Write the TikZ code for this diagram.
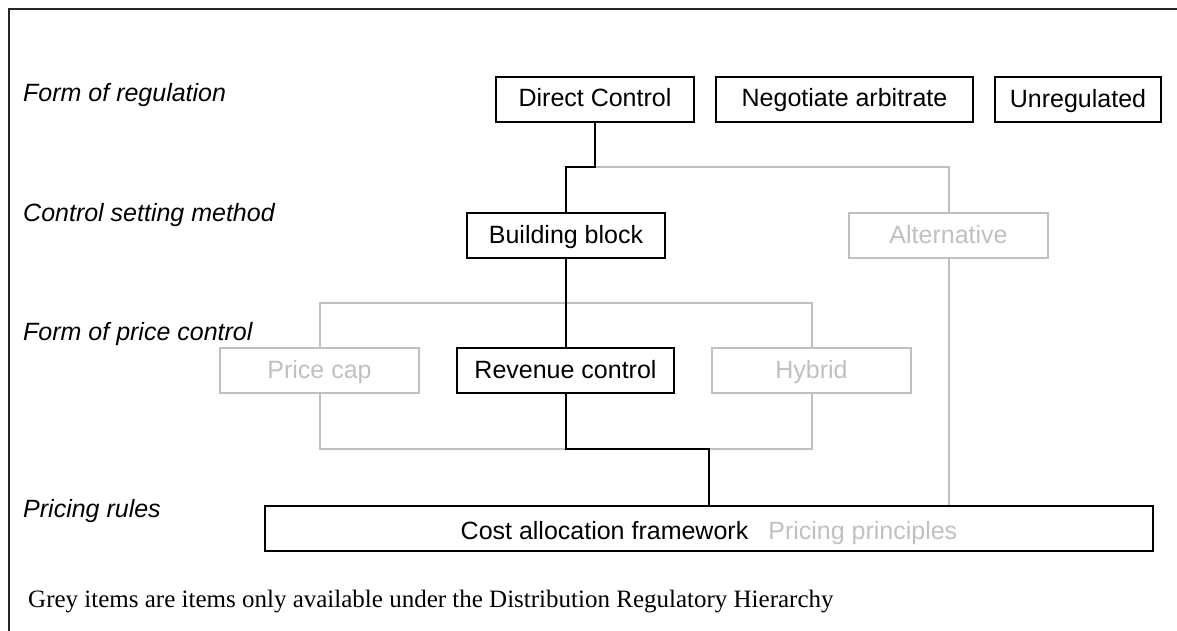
\documentclass[tikz,border=0pt]{standalone}
\usepackage{fontspec}
\setmainfont{Liberation Serif}
\setsansfont{Liberation Sans}
\definecolor{lightgrey}{HTML}{C0C0C0}
\begin{document}
\begin{tikzpicture}[x=1pt,y=-1pt,
  every node/.style={font=\sffamily\fontsize{25}{30}\selectfont, inner sep=0pt},
  blackbox/.style={draw=black, line width=2pt, minimum height=45pt, text=black, text height=18pt, text depth=3pt},
  greybox/.style={draw=lightgrey, line width=2pt, minimum height=45pt, text=lightgrey, text height=18pt, text depth=3pt},
  levellabel/.style={anchor=base west, font=\sffamily\itshape\fontsize{25}{30}\selectfont},
  blackline/.style={draw=black, line width=2pt},
  greyline/.style={draw=lightgrey, line width=2pt}]
\useasboundingbox (0,0) rectangle (1177,631);
\draw[line width=1.5pt, black!85] (9,631) -- (9,9) -- (1177,9);

% level labels
\node[levellabel] (l1) at (23,102) {Form of regulation};
\node[levellabel] (l2) at (23,221) {Control setting method};
\node[levellabel] (l3) at (23,340) {Form of price control};
\node[levellabel] (l4) at (23,517) {Pricing rules};
\node[anchor=base west, font=\rmfamily\fontsize{25}{30}\selectfont] (note) at (28,607) {Grey items are items only available under the Distribution Regulatory Hierarchy};

% boxes
\node[blackbox, minimum width=198pt] (dc) at (595,99.5) {Direct Control};
\node[blackbox, minimum width=257pt] (na) at (844.5,99.5) {Negotiate arbitrate};
\node[blackbox, minimum width=166pt] (un) at (1078,100) {Unregulated};
\node[blackbox, minimum width=198pt] (bb) at (566,235.5) {Building block};
\node[greybox, minimum width=199pt] (alt) at (948.5,235.5) {Alternative};
\node[greybox, minimum width=199pt] (pc) at (319.5,370.5) {Price cap};
\node[blackbox, minimum width=217pt] (rc) at (565.5,370.5) {Revenue control};
\node[greybox, minimum width=199pt] (hy) at (811.5,370.5) {Hybrid};
\node[blackbox, minimum width=888pt, text height=21pt, text depth=0pt] (ca) at (709,528.5) {Cost allocation framework\hspace{20pt}\textcolor{lightgrey}{Pricing principles}};

% junction coordinates
\coordinate (j1) at (595,167);
\coordinate (j2) at (0,303);
\coordinate (j3) at (0,449);

% grey connectors
\draw[greyline] (j1) -| (alt.north);
\draw[greyline] (pc.north) -- (pc.north |- j2) -- (hy.north |- j2) -- (hy.north);
\draw[greyline] (pc.south) -- (pc.south |- j3) -- (hy.south |- j3) -- (hy.south);
\draw[greyline] (alt.south) -- (alt.south |- ca.north);

% black connectors
\draw[blackline] (dc.south) -- (j1) -| (bb.north);
\draw[blackline] (bb.south) -- (bb.south |- rc.north);
\draw[blackline] (rc.south) -- (rc.south |- j3) -| (ca.north);
\end{tikzpicture}
\end{document}
